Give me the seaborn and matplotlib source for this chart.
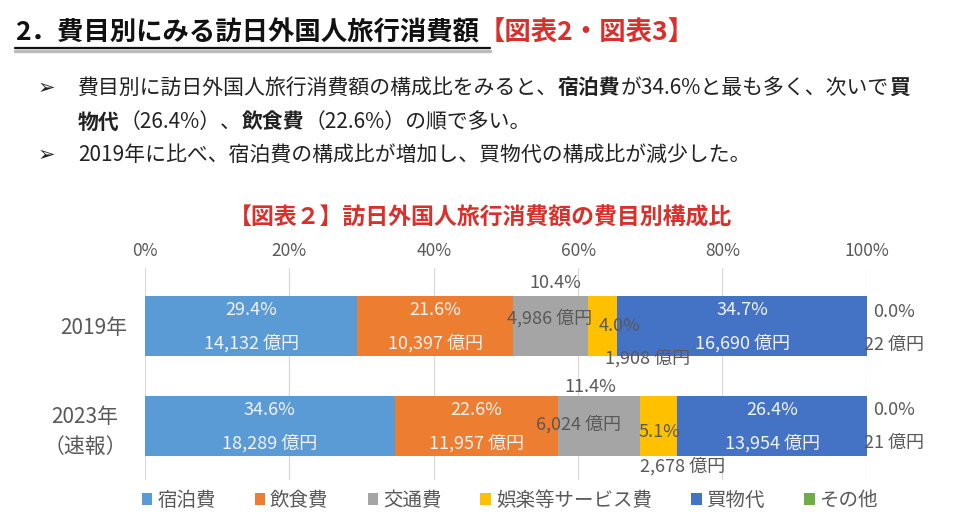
import pandas as pd
import matplotlib.pyplot as plt
import seaborn as sns
from matplotlib.lines import Line2D
from matplotlib.patches import Patch

# Data
years = ["2019年", "2023年\n（速報）"]
categories = ["宿泊費", "飲食費", "交通費", "娯楽等サービス費", "買物代", "その他"]
share_2019 = [29.4, 21.6, 10.4, 4.0, 34.7, 0.0]
share_2023 = [34.6, 22.6, 11.4, 5.1, 26.4, 0.0]
amount_2019 = [14132, 10397, 4986, 1908, 16690, 22]
amount_2023 = [18289, 11957, 6024, 2678, 13954, 21]
x_ticks = [0, 20, 40, 60, 80, 100]

colors = ["#5B9BD5", "#ED7D31", "#A5A5A5", "#FFC000", "#4472C4", "#70AD47"]
inside_labels = ["宿泊費", "飲食費", "買物代"]
# label offsets (pct dx, pct dy, amount dx, amount dy) for the small segments
label_offsets = {
    ("交通費", 0): (0.6, -0.43, -0.1, -0.08),
    ("交通費", 1): (-1.2, -0.39, -2.9, -0.02),
    ("娯楽等サービス費", 0): (2.3, 0.0, 6.2, 0.32),
    ("娯楽等サービス費", 1): (0.1, 0.06, 3.3, 0.40),
    ("その他", 0): (3.6, -0.14, 3.7, 0.19),
    ("その他", 1): (3.6, -0.16, 3.7, 0.17),
}

rows = []
for year, shares, amounts in [(years[0], share_2019, amount_2019),
                              (years[1], share_2023, amount_2023)]:
    for cat, s, a in zip(categories, shares, amounts):
        rows.append({"year": year, "category": cat, "share": s, "amount": a})
df = pd.DataFrame(rows)
df["cum"] = df.groupby("year")["share"].cumsum()
df["center"] = df["cum"] - df["share"] / 2

sns.set_theme(style="white")
plt.rcParams["font.family"] = ["Noto Sans CJK JP", "DejaVu Sans"]

GRAY = "#595959"
RED = "#D9302C"

fig = plt.figure(figsize=(9.6, 5.25), dpi=100)
ax = fig.add_axes([0.151, 0.0857, 0.752, 0.404])

# stacked bars: draw cumulative totals from the last category to the first
for cat, col in reversed(list(zip(categories, colors))):
    sub = df[df["category"] == cat]
    sns.barplot(data=sub, x="cum", y="year", order=years, orient="h",
                color=col, saturation=1, width=0.6, linewidth=0,
                errorbar=None, ax=ax)

for i, year in enumerate(years):
    for _, r in df[df["year"] == year].iterrows():
        pct = f"{r['share']:.1f}%"
        amt = f"{int(r['amount']):,} 億円"
        if r["category"] in inside_labels:
            ax.text(r["center"], i - 0.16, pct, ha="center", va="center",
                    color="#F2F2F2", fontsize=13)
            ax.text(r["center"], i + 0.17, amt, ha="center", va="center",
                    color="#F2F2F2", fontsize=13)
        else:
            pdx, pdy, adx, ady = label_offsets[(r["category"], i)]
            ax.text(r["center"] + pdx, i + pdy, pct, ha="center", va="center",
                    color=GRAY, fontsize=13, clip_on=False)
            ax.text(r["center"] + adx, i + ady, amt, ha="center", va="center",
                    color=GRAY, fontsize=13, clip_on=False)

ax.set_xlim(0, 100)
ax.set_ylim(1.54, -0.58)
ax.set_xticks(x_ticks)
ax.set_xticklabels([f"{t}%" for t in x_ticks])
ax.xaxis.tick_top()
ax.tick_params(axis="x", length=0, pad=6, labelsize=12.5, labelcolor=GRAY)
ax.tick_params(axis="y", length=0, pad=13, labelsize=15, labelcolor=GRAY)
for t in ax.get_yticklabels():
    t.set_multialignment("center")
    t.set_linespacing(1.45)
ax.set_xlabel("")
ax.set_ylabel("")
ax.grid(axis="x", color="#D9D9D9", linewidth=0.9)
ax.set_axisbelow(True)
for s in ax.spines.values():
    s.set_visible(False)

handles = [Patch(facecolor=c, edgecolor="none") for c in colors]
leg = fig.legend(handles, categories, loc="center", bbox_to_anchor=(0.531, 0.047),
                 ncol=6, frameon=False, fontsize=14, handlelength=0.55,
                 handleheight=0.55, handletextpad=0.25, columnspacing=2.0)
for t in leg.get_texts():
    t.set_color(GRAY)

# chart title
fig.text(0.5, 1 - 218 / 525, "【図表２】訪日外国人旅行消費額の費目別構成比",
         ha="center", va="center", fontsize=16.5, fontweight="bold", color=RED)

# slide header and bullet text
bg = fig.add_axes([0, 0, 1, 1], zorder=-1)
bg.axis("off")


def rich_line(x, y, parts, size):
    prev = None
    for s, bold, col in parts:
        kw = dict(fontsize=size, fontweight="bold" if bold else "normal",
                  color=col, ha="left", va="center")
        if prev is None:
            prev = bg.annotate(s, xy=(x, y), xycoords="figure fraction", **kw)
        else:
            prev = bg.annotate(s, xy=(1, 0.5), xycoords=prev, **kw)
    return prev


TXT = "#222222"
rich_line(15 / 960, 1 - 33 / 525,
          [("2．費目別にみる訪日外国人旅行消費額", True, "#111111"),
           ("【図表2・図表3】", True, RED)], 19)
fig.add_artist(Line2D([15 / 960, 490 / 960], [1 - 51 / 525] * 2,
                      color="#BBBBBB", linewidth=2.5))
fig.add_artist(Line2D([15 / 960, 490 / 960], [1 - 48 / 525] * 2,
                      color="#111111", linewidth=1.6))

for yy in [88, 155]:
    fig.text(38 / 960, 1 - yy / 525, "➢", fontsize=15, color=TXT,
             ha="left", va="center", family="DejaVu Sans")
rich_line(78 / 960, 1 - 88 / 525,
          [("費目別に訪日外国人旅行消費額の構成比をみると、", False, TXT),
           ("宿泊費", True, TXT),
           ("が34.6%と最も多く、次いで", False, TXT),
           ("買", True, TXT)], 15)
rich_line(78 / 960, 1 - 122 / 525,
          [("物代", True, TXT),
           ("（26.4%）、", False, TXT),
           ("飲食費", True, TXT),
           ("（22.6%）の順で多い。", False, TXT)], 15)
rich_line(78 / 960, 1 - 155 / 525,
          [("2019年に比べ、宿泊費の構成比が増加し、買物代の構成比が減少した。", False, TXT)], 15)

fig.savefig("out.png", dpi=100)
